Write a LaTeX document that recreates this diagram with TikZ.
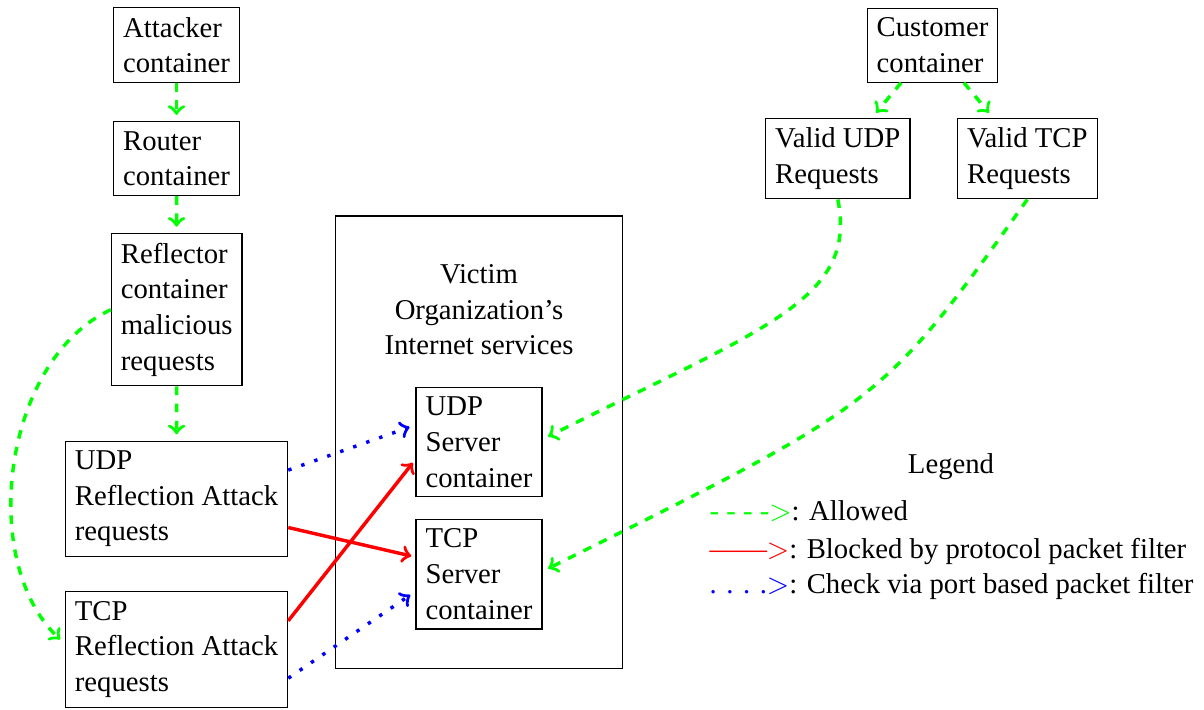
\documentclass[tikz,border=0pt]{standalone}
\usepackage{fontspec}
\setmainfont{Liberation Serif}
\begin{document}
\begin{tikzpicture}[x=0.3484pt, y=-0.3484pt,
  every node/.style={font=\fontsize{10}{12.4}\selectfont},
  box/.style={draw, align=left},
  allowed/.style={->, very thick, dashed, green, shorten >=2.2pt},
  blocked/.style={->, very thick, red, shorten >=1.5pt},
  checked/.style={->, very thick, dash pattern=on 1.2pt off 3.6pt, blue, shorten >=2.2pt},
  legline/.style={anchor=base west, inner sep=0pt}]
\useasboundingbox (0,0) rectangle (1204,709);

% left column
\node[box] (att) at (176.5,45.2) {Attacker\\container};
\node[box] (router) at (176.5,158.7) {Router\\container};
\node[box] (refl) at (176.7,309.7) {Reflector\\container\\malicious\\requests};
\node[box] (udpatk) at (176.5,498.8) {UDP\\Reflection Attack\\requests};
\node[box] (tcpatk) at (176.5,649.5) {TCP\\Reflection Attack\\requests};

% victim organisation
\node[draw, minimum width=100.2pt, minimum height=157.6pt, inner sep=0pt] (victim) at (478.9,442.2) {};
\node[align=center] (victimlbl) at (479,310) {Victim\\Organization's\\Internet services};
\node[box] (udpsrv) at (479,442.2) {UDP\\Server\\container};
\node[box] (tcpsrv) at (479,574.2) {TCP\\Server\\container};

% customer side
\node[box] (cust) at (932.5,45.2) {Customer\\container};
\node[box] (vudp) at (837.8,158.5) {Valid UDP\\Requests};
\node[box] (vtcp) at (1027.3,158.5) {Valid TCP\\Requests};

% legend
\node (legtitle) at (951,467) {Legend};
\node[legline] (leg1) at (709,520) {\textcolor{green}{- - - -$>$}: Allowed};
\node[legline] (leg2) at (709,558) {\textcolor{red}{------$>$}: Blocked by protocol packet filter};
\node[legline] (leg3) at (709,593) {\textcolor{blue}{. . . .$>$}: Check via port based packet filter};

% connectors
\draw[allowed] (att) -- (router);
\draw[allowed] (router) -- (refl);
\draw[allowed] (refl) -- (udpatk);
\draw[allowed] (refl.west) .. controls +(-108,50) and +(-87,-82) .. ([yshift=2pt]tcpatk.west);
\draw[allowed] (cust) -- (vudp);
\draw[allowed] (cust) -- (vtcp);
\draw[allowed] (vudp.south) .. controls +(20,100) and +(223,-112) .. ([yshift=1pt]udpsrv.east);
\draw[allowed] (vtcp.south) .. controls +(-147,207) and +(337,-168) .. ([yshift=1pt]tcpsrv.east);

\draw[checked] ([yshift=10pt]udpatk.east) -- ([yshift=6pt]udpsrv.west);
\draw[blocked] ([yshift=-10pt]udpatk.east) -- ([yshift=6pt]tcpsrv.west);
\draw[blocked] ([yshift=10pt]tcpatk.east) -- ([yshift=-6pt]udpsrv.west);
\draw[checked] ([yshift=-10pt]tcpatk.east) -- ([yshift=-6pt]tcpsrv.west);
\end{tikzpicture}
\end{document}
